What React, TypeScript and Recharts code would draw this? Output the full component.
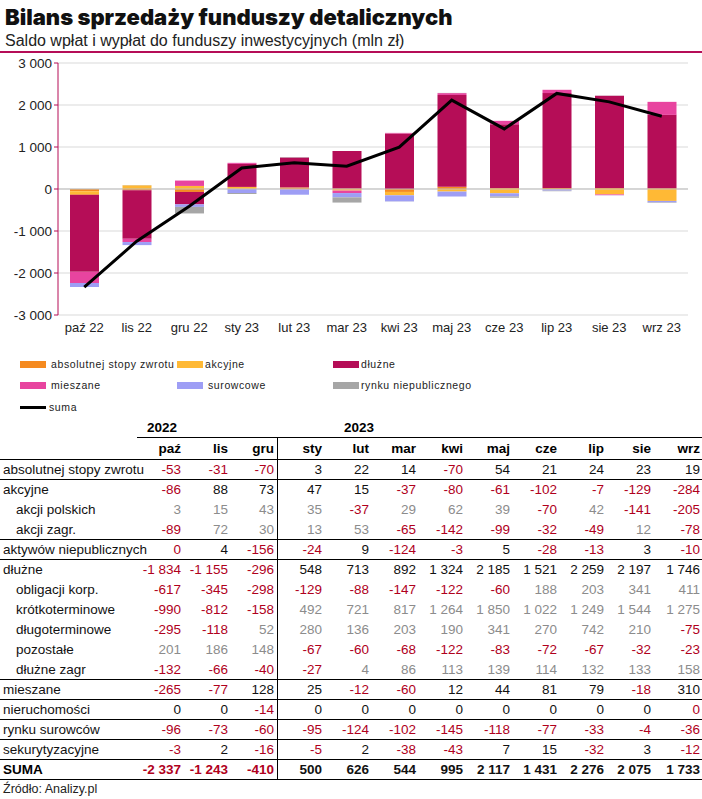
import React from "react";
import {
  ComposedChart, Bar, Line, XAxis, YAxis, CartesianGrid, ReferenceLine,
} from "recharts";

const chartLabels = ["paź 22", "lis 22", "gru 22", "sty 23", "lut 23", "mar 23", "kwi 23", "maj 23", "cze 23", "lip 23", "sie 23", "wrz 23"];
const monthHeads = ["paź", "lis", "gru", "sty", "lut", "mar", "kwi", "maj", "cze", "lip", "sie", "wrz"];

// -0 = wartość ujemna zaokrąglona do zera (w tabeli na czerwono)
const absolutnej = [-53, -31, -70, 3, 22, 14, -70, 54, 21, 24, 23, 19];
const akcyjne = [-86, 88, 73, 47, 15, -37, -80, -61, -102, -7, -129, -284];
const akcjiPolskich = [3, 15, 43, 35, -37, 29, 62, 39, -70, 42, -141, -205];
const akcjiZagr = [-89, 72, 30, 13, 53, -65, -142, -99, -32, -49, 12, -78];
const niepubliczne = [-0, 4, -156, -24, 9, -124, -3, 5, -28, -13, 3, -10];
const dluzne = [-1834, -1155, -296, 548, 713, 892, 1324, 2185, 1521, 2259, 2197, 1746];
const obligacjiKorp = [-617, -345, -298, -129, -88, -147, -122, -60, 188, 203, 341, 411];
const krotkoterminowe = [-990, -812, -158, 492, 721, 817, 1264, 1850, 1022, 1249, 1544, 1275];
const dlugoterminowe = [-295, -118, 52, 280, 136, 203, 190, 341, 270, 742, 210, -75];
const pozostale = [201, 186, 148, -67, -60, -68, -122, -83, -72, -67, -32, -23];
const dluzneZagr = [-132, -66, -40, -27, 4, 86, 113, 139, 114, 132, 133, 158];
const mieszane = [-265, -77, 128, 25, -12, -60, 12, 44, 81, 79, -18, 310];
const nieruchomosci = [0, 0, -14, 0, 0, 0, 0, 0, 0, 0, 0, -0];
const surowcow = [-96, -73, -60, -95, -124, -102, -145, -118, -77, -33, -4, -36];
const sekurytyzacyjne = [-3, 2, -16, -5, 2, -38, -43, 7, 15, -32, 3, -12];
const suma = [-2337, -1243, -410, 500, 626, 544, 995, 2117, 1431, 2276, 2075, 1733];

const yTicks = [-3000, -2000, -1000, 0, 1000, 2000, 3000];

const C = {
  abs: "#F58A1F",
  akc: "#FFB935",
  dlu: "#B50D57",
  mie: "#E8449F",
  sur: "#9E9EF5",
  nie: "#A6A6A6",
  red: "#B0001C",
  gray: "#8C8C8C",
};

const data = chartLabels.map((label, i) => ({
  label,
  abs: absolutnej[i],
  akc: akcyjne[i],
  dlu: dluzne[i],
  mie: mieszane[i],
  sur: surowcow[i],
  nie: niepubliczne[i],
  suma: suma[i],
}));

const isNeg = (v: number) => v < 0 || Object.is(v, -0);

const fmt = (v: number) => {
  const s = Math.abs(v).toString().replace(/\B(?=(\d{3})+(?!\d))/g, " ");
  return v < 0 ? `-${s}` : s;
};

const narrow = '"Liberation Sans Narrow", "Arial Narrow", "Liberation Sans", Arial, sans-serif';

const rows = [
  { l: "absolutnej stopy zwrotu", v: absolutnej, sub: false, line: true },
  { l: "akcyjne", v: akcyjne, sub: false, line: false },
  { l: "akcji polskich", v: akcjiPolskich, sub: true, line: false },
  { l: "akcji zagr.", v: akcjiZagr, sub: true, line: true },
  { l: "aktywów niepublicznych", v: niepubliczne, sub: false, line: true },
  { l: "dłużne", v: dluzne, sub: false, line: false },
  { l: "obligacji korp.", v: obligacjiKorp, sub: true, line: false },
  { l: "krótkoterminowe", v: krotkoterminowe, sub: true, line: false },
  { l: "długoterminowe", v: dlugoterminowe, sub: true, line: false },
  { l: "pozostałe", v: pozostale, sub: true, line: false },
  { l: "dłużne zagr", v: dluzneZagr, sub: true, line: true },
  { l: "mieszane", v: mieszane, sub: false, line: true },
  { l: "nieruchomości", v: nieruchomosci, sub: false, line: true },
  { l: "rynku surowców", v: surowcow, sub: false, line: true },
  { l: "sekurytyzacyjne", v: sekurytyzacyjne, sub: false, line: true },
];

const legendItems = [
  { l: "absolutnej stopy zwrotu", c: C.abs, x: 20, y: 364, gap: 5 },
  { l: "akcyjne", c: C.akc, x: 177, y: 364, gap: 2 },
  { l: "dłużne", c: C.dlu, x: 333, y: 364, gap: 2 },
  { l: "mieszane", c: C.mie, x: 20, y: 385, gap: 5 },
  { l: "surowcowe", c: C.sur, x: 177, y: 385, gap: 5 },
  { l: "rynku niepublicznego", c: C.nie, x: 333, y: 385, gap: 2 },
];

const LABEL_W = 137;
const COL_W = 47;
const BAR = 29;

function ValueCells({ v, sub, bold }: { v: number[]; sub: boolean; bold?: boolean }) {
  return (
    <>
      {v.map((x, i) => (
        <div
          key={i}
          style={{
            width: i === 11 ? COL_W + 1 : COL_W,
            textAlign: "right",
            paddingRight: i === 11 ? 2 : 3,
            boxSizing: "border-box",
            color: isNeg(x) ? C.red : sub ? C.gray : "#111",
            fontWeight: bold ? 700 : 400,
            borderRight: i === 2 ? "1px solid #000" : "none",
            height: "100%",
            lineHeight: "20px",
          }}
        >
          {fmt(x)}
        </div>
      ))}
    </>
  );
}

const legendText = { fontSize: 10.5, letterSpacing: 0.6, color: "#222" };

export default function App() {
  return (
    <div
      style={{
        position: "absolute",
        left: 0,
        top: 0,
        width: 702,
        height: 799,
        background: "#fff",
        overflow: "hidden",
        fontFamily: '"Liberation Sans", Arial, sans-serif',
      }}
    >
      <div
        style={{
          position: "absolute",
          left: 5,
          top: 4,
          fontFamily: "Inter, sans-serif",
          fontWeight: 900,
          fontSize: 22,
          color: "#111",
        }}
      >
        Bilans sprzedaży funduszy detalicznych
      </div>
      <div
        style={{ position: "absolute", left: 5, top: 32, fontSize: 16, color: "#222", fontFamily: narrow }}
      >
        Saldo wpłat i wypłat do funduszy inwestycyjnych (mln zł)
      </div>
      <div style={{ position: "absolute", left: 0, top: 51, width: 702, height: 2, background: C.dlu }} />

      <div style={{ position: "absolute", left: 0, top: 50 }}>
        <ComposedChart
          width={702}
          height={300}
          data={data}
          stackOffset="sign"
          margin={{ top: 13, right: 14, bottom: 5, left: 0 }}
        >
          <CartesianGrid vertical={false} stroke="#D9D9D9" />
          <XAxis
            dataKey="label"
            axisLine={false}
            tickLine={false}
            interval={0}
            height={30}
            tick={{ fontSize: 13, fill: "#222", fontFamily: narrow }}
          />
          <YAxis
            domain={[-3000, 3000]}
            ticks={yTicks}
            width={58}
            tickFormatter={fmt}
            axisLine={{ stroke: C.dlu }}
            tickLine={{ stroke: C.dlu }}
            tickSize={4}
            tick={{ fontSize: 13.5, fill: "#222", fontFamily: narrow }}
          />
          <ReferenceLine y={0} stroke="#BFBFBF" />
          <Bar dataKey="abs" stackId="a" barSize={BAR} fill={C.abs} isAnimationActive={false} />
          <Bar dataKey="akc" stackId="a" barSize={BAR} fill={C.akc} isAnimationActive={false} />
          <Bar dataKey="dlu" stackId="a" barSize={BAR} fill={C.dlu} isAnimationActive={false} />
          <Bar dataKey="mie" stackId="a" barSize={BAR} fill={C.mie} isAnimationActive={false} />
          <Bar dataKey="sur" stackId="a" barSize={BAR} fill={C.sur} isAnimationActive={false} />
          <Bar dataKey="nie" stackId="a" barSize={BAR} fill={C.nie} isAnimationActive={false} />
          <Line
            dataKey="suma"
            type="linear"
            stroke="#000"
            strokeWidth={3}
            dot={false}
            isAnimationActive={false}
          />
        </ComposedChart>
      </div>

      {legendItems.map((it) => (
        <div
          key={it.l}
          style={{
            position: "absolute",
            left: it.x,
            top: it.y - 7,
            display: "flex",
            alignItems: "center",
            height: 14,
            ...legendText,
          }}
        >
          <span style={{ width: 26, height: 7, background: it.c, marginRight: it.gap }} />
          {it.l}
        </div>
      ))}
      <div
        style={{
          position: "absolute",
          left: 20,
          top: 400,
          display: "flex",
          alignItems: "center",
          height: 14,
          ...legendText,
        }}
      >
        <span style={{ width: 26, height: 3, background: "#000", marginRight: 3 }} />
        suma
      </div>

      {/* tabela */}
      <div style={{ position: "absolute", left: 0, top: 419, width: 702, fontFamily: narrow, fontSize: 13.5 }}>
        <div style={{ display: "flex", height: 18, borderBottom: "1px solid #000", marginLeft: LABEL_W }}>
          <div style={{ width: COL_W * 3, paddingLeft: 10, fontWeight: 700, lineHeight: "18px" }}>2022</div>
          <div style={{ paddingLeft: 56, fontWeight: 700, lineHeight: "18px" }}>2023</div>
        </div>
        <div style={{ display: "flex", height: 21, borderBottom: "1px solid #000" }}>
          <div style={{ width: LABEL_W }} />
          {monthHeads.map((m, i) => (
            <div
              key={m}
              style={{
                width: i === 11 ? COL_W + 1 : COL_W,
                textAlign: "right",
                paddingRight: i === 11 ? 2 : 3,
                boxSizing: "border-box",
                fontWeight: 700,
                lineHeight: "22px",
                borderRight: i === 2 ? "1px solid #000" : "none",
              }}
            >
              {m}
            </div>
          ))}
        </div>
        {rows.map((r) => (
          <div
            key={r.l}
            style={{
              display: "flex",
              height: r.line ? 19 : 20,
              borderBottom: r.line ? "1px solid #000" : "none",
              color: "#111",
            }}
          >
            <div
              style={{
                width: LABEL_W,
                paddingLeft: r.sub ? 16 : 3,
                boxSizing: "border-box",
                lineHeight: "20px",
                whiteSpace: "nowrap",
              }}
            >
              {r.l}
            </div>
            <ValueCells v={r.v} sub={r.sub} />
          </div>
        ))}
        <div style={{ display: "flex", height: 19, borderBottom: "1px solid #000" }}>
          <div style={{ width: LABEL_W, paddingLeft: 3, boxSizing: "border-box", fontWeight: 700, lineHeight: "20px" }}>
            SUMA
          </div>
          <ValueCells v={suma} sub={false} bold />
        </div>
        <div style={{ paddingLeft: 3, marginTop: 2, fontSize: 12.5, color: "#222" }}>Źródło: Analizy.pl</div>
      </div>
    </div>
  );
}
